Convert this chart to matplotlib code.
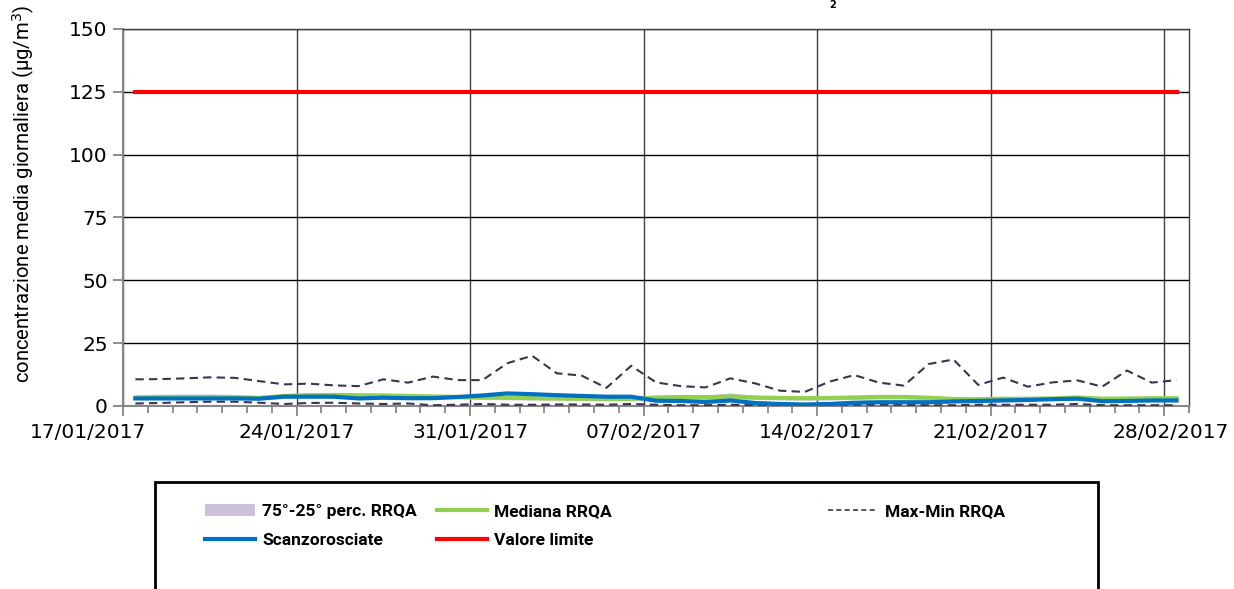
import numpy as np
import pandas as pd
import matplotlib.pyplot as plt
from matplotlib.lines import Line2D
from matplotlib.patches import Patch, Rectangle
from matplotlib.transforms import ScaledTranslation

# daily values, 17/01/2017 -> 28/02/2017
start_date = '2017-01-17'
end_axis = '2017-03-01'

max_rrqa = [10.6, 10.7, 11.0, 11.4, 11.2, 9.9, 8.6, 8.9, 8.2, 7.9,
            10.6, 9.3, 11.7, 10.3, 10.3, 17.0, 20.0, 13.0, 12.1, 7.2,
            16.0, 9.4, 7.9, 7.4, 11.0, 9.0, 6.1, 5.6, 9.7, 12.3,
            9.3, 8.1, 16.7, 18.5, 8.4, 11.3, 7.7, 9.4, 10.2, 7.7,
            14.1, 9.3, 10.3]
min_rrqa = [1.0, 1.2, 1.5, 1.7, 1.7, 1.3, 0.8, 1.2, 1.3, 1.0,
            0.8, 1.0, 0.3, 0.5, 0.8, 0.5, 0.5, 0.6, 0.6, 0.5,
            0.8, 0.5, 0.3, 0.3, 0.5, 0.3, 0.1, 0.1, 0.3, 0.5,
            0.5, 0.5, 0.3, 0.3, 0.5, 0.5, 0.5, 0.5, 0.8, 0.3,
            0.3, 0.3, 0.3]
median_rrqa = [3.3, 3.4, 3.5, 3.5, 3.4, 3.2, 4.0, 4.3, 4.4, 4.3,
               4.2, 4.0, 3.8, 3.6, 3.4, 3.3, 3.1, 3.0, 2.9, 2.8,
               2.8, 3.4, 3.6, 3.5, 3.8, 3.4, 3.2, 3.1, 3.2, 3.4,
               3.6, 3.6, 3.3, 2.8, 2.7, 2.9, 2.9, 3.0, 3.4, 2.9,
               3.0, 3.1, 3.1]
p75_rrqa = [4.5, 4.7, 4.8, 4.8, 4.6, 4.2, 4.9, 5.1, 5.2, 5.0,
            4.9, 4.7, 4.5, 4.3, 4.1, 4.0, 3.8, 3.7, 3.6, 3.5,
            3.6, 4.1, 4.3, 4.3, 5.2, 4.2, 3.9, 3.8, 3.9, 4.1,
            4.3, 4.3, 4.0, 3.5, 3.4, 3.6, 3.6, 3.7, 4.1, 3.6,
            3.7, 3.8, 3.8]
p25_rrqa = [2.6, 2.7, 2.8, 2.8, 2.7, 2.5, 3.1, 3.4, 3.5, 3.4,
            3.3, 3.1, 2.9, 2.8, 2.6, 2.5, 2.4, 2.3, 2.2, 2.1,
            2.1, 2.6, 2.8, 2.7, 2.9, 2.6, 2.4, 2.3, 2.4, 2.6,
            2.8, 2.8, 2.5, 2.1, 2.0, 2.2, 2.2, 2.3, 2.6, 2.2,
            2.3, 2.4, 2.4]
scanzorosciate = [3.0, 3.0, 3.0, 3.0, 3.0, 2.9, 3.7, 3.7, 3.7, 3.0,
                  3.3, 3.1, 3.1, 3.6, 4.2, 5.0, 4.7, 4.3, 4.0, 3.7,
                  3.7, 2.1, 2.0, 1.6, 2.2, 1.2, 0.8, 0.6, 0.8, 1.3,
                  1.5, 1.5, 1.5, 1.8, 2.0, 2.2, 2.4, 2.7, 2.9, 1.9,
                  2.0, 2.2, 2.2]
valore_limite = [125] * len(scanzorosciate)

y_ticks = [0, 25, 50, 75, 100, 125, 150]

C_BAND = '#CCC1DA'
C_MED = '#92D050'
C_MAXMIN = '#403152'
C_SITE = '#0070C0'
C_LIM = '#FF0000'
C_AXIS = '#868686'


def main():
  fig = plt.figure(figsize=(12.34, 5.89), dpi=100)
  ax = fig.add_axes([0.0997, 0.3107, 0.8638, 0.6401])

  # each value sits in the middle of its day
  days = pd.date_range(start_date, periods=len(scanzorosciate), freq='D') + pd.Timedelta(hours=12)

  ax.fill_between(days, p25_rrqa, p75_rrqa, color=C_BAND, lw=0, zorder=2)
  ax.plot(days, max_rrqa, color=C_MAXMIN, lw=1.5, dashes=(4, 2.5), zorder=3)
  ax.plot(days, min_rrqa, color=C_MAXMIN, lw=1.5, dashes=(4, 2.5), zorder=3)
  ax.plot(days, median_rrqa, color=C_MED, lw=3, zorder=4)
  ax.plot(days, scanzorosciate, color=C_SITE, lw=3, zorder=5)
  ax.plot(days, valore_limite, color=C_LIM, lw=3, zorder=6)

  # axes and ticks
  ax.set_xlim(pd.Timestamp(start_date), pd.Timestamp(end_axis))
  ax.set_ylim(0, 150)
  ax.set_yticks(y_ticks)
  weeks = pd.date_range(start_date, '2017-02-28', freq='7D')
  ax.set_xticks(weeks)
  ax.set_xticklabels([d.strftime('%d/%m/%Y') for d in weeks])
  ax.set_xticks(pd.date_range(start_date, end_axis, freq='D'), minor=True)

  ax.grid(axis='y', color='black', lw=1, zorder=1)
  ax.grid(axis='x', which='major', color='#404040', lw=1, zorder=1)
  for side in ['left', 'bottom']:
    ax.spines[side].set_color(C_AXIS)
    ax.spines[side].set_linewidth(1.5)
  for side in ['top', 'right']:
    ax.spines[side].set_color('#404040')
    ax.spines[side].set_linewidth(1)

  ax.tick_params(axis='both', which='both', color=C_AXIS, width=1.3,
                 labelsize=14.5, labelcolor='black')
  ax.tick_params(axis='y', length=7, pad=4)
  ax.tick_params(axis='x', which='major', length=7, pad=5)
  ax.tick_params(axis='x', which='minor', length=5)

  # first and last date labels are nudged like in the original
  xlabels = ax.get_xticklabels()
  xlabels[0].set_transform(xlabels[0].get_transform() + ScaledTranslation(-0.35, 0, fig.dpi_scale_trans))
  xlabels[-1].set_transform(xlabels[-1].get_transform() + ScaledTranslation(0.07, 0, fig.dpi_scale_trans))

  ax.set_ylabel('concentrazione media giornaliera (µg/m$^3$)', family='Roboto', fontsize=14.6)
  ax.yaxis.set_label_coords(-0.081, 0.563)

  # title is cut off at the top edge, only the subscript shows
  fig.text(833 / 1234, 1.0, '2', fontsize=7, fontweight='bold', ha='center', va='top')

  # legend box below the plot
  fig.add_artist(Rectangle((155 / 1234, -0.1), (1098 - 155) / 1234, 0.1 + 1 - 482 / 589,
                           transform=fig.transFigure, fill=False, ec='black', lw=2))
  prop = {'family': 'Roboto', 'weight': 'bold', 'size': 12.5}
  opts = dict(loc='upper left', frameon=False, borderpad=0, borderaxespad=0,
              handlelength=2.9, handletextpad=0.4, labelspacing=0.8, prop=prop)
  col1 = [Patch(facecolor=C_BAND, label='75°-25° perc. RRQA'),
          Line2D([], [], color=C_SITE, lw=3, label='Scanzorosciate')]
  col2 = [Line2D([], [], color=C_MED, lw=3, label='Mediana RRQA'),
          Line2D([], [], color=C_LIM, lw=3, label='Valore limite')]
  col3 = [Line2D([], [], color=C_MAXMIN, lw=1.2, dashes=(3, 2), label='Max-Min RRQA')]
  top = 1 - 504 / 589
  fig.legend(handles=col1, bbox_to_anchor=(205 / 1234, top), **opts)
  fig.legend(handles=col2, bbox_to_anchor=(437 / 1234, top), **opts)
  fig.legend(handles=col3, bbox_to_anchor=(828 / 1234, top), **opts)

  fig.savefig('out.png', dpi=100)


if __name__ == "__main__":
  main()
